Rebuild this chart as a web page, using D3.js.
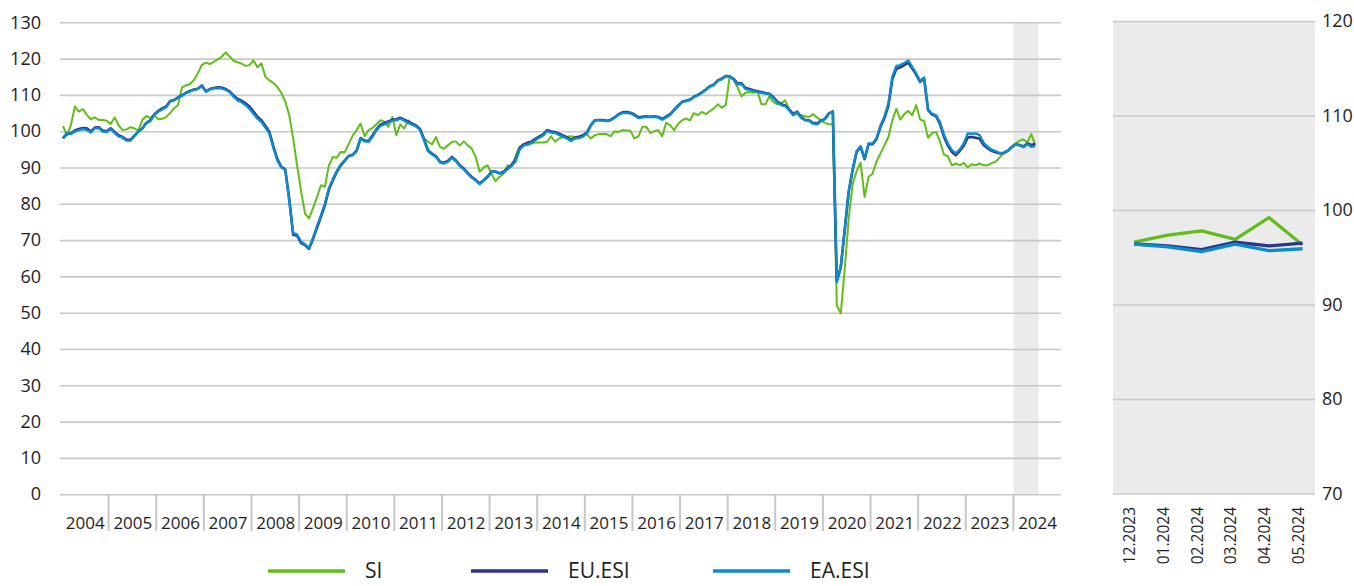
<!DOCTYPE html>
<html><head><meta charset="utf-8">
<script src="https://cdn.jsdelivr.net/npm/d3@7"></script>
<style>
body{margin:0;background:#fff}
svg{display:block}
text{font-family:"Open Sans",sans-serif;fill:#1e1e1e}
</style>
</head><body>
<svg id="chart" width="1354" height="586"></svg>
<script>
// ---------- data ----------
const years = d3.range(2004, 2025).map(String);
const seriesNames = ["SI", "EU.ESI", "EA.ESI"];

// monthly values, Jan 2004 onwards
const siValues = [
101.5, 98.8, 101.7, 106.8, 105.4, 106.1, 104.5, 103.3, 103.8, 103.1, 103.1, 102.9,
102.0, 103.8, 101.7, 100.3, 100.5, 101.1, 100.8, 100.2, 103.1, 104.2, 103.6, 104.5,
103.3, 103.4, 103.9, 105.0, 106.3, 107.2, 112.1, 112.6, 113.0, 114.1, 116.0, 118.3,
118.9, 118.5, 119.1, 119.8, 120.5, 121.7, 120.6, 119.4, 119.0, 118.6, 118.0, 118.2,
119.5, 117.6, 118.7, 115.0, 114.0, 113.3, 112.2, 110.6, 108.2, 104.5, 98.0, 90.5,
83.5, 77.3, 76.0, 78.8, 81.8, 85.1, 84.7, 90.6, 92.9, 92.7, 94.3, 94.2,
96.5, 98.8, 100.3, 102.1, 98.6, 100.3, 100.9, 101.9, 103.0, 102.6, 101.2, 103.9,
98.9, 101.9, 100.7, 103.0, 101.9, 101.2, 100.7, 98.0, 97.1, 96.4, 98.4, 95.7,
95.2, 96.1, 97.0, 97.2, 96.1, 97.2, 96.1, 95.2, 92.9, 88.8, 90.0, 90.6,
88.2, 86.2, 87.4, 88.3, 90.6, 90.2, 92.9, 95.7, 96.4, 96.1, 96.6, 96.9,
96.9, 96.9, 97.1, 98.6, 97.1, 98.0, 98.3, 98.5, 98.6, 98.4, 98.6, 98.9,
99.2, 98.0, 98.9, 99.2, 99.2, 99.2, 98.6, 100.0, 99.8, 100.3, 100.2, 100.1,
98.0, 98.6, 101.2, 101.2, 99.5, 100.0, 100.3, 98.6, 102.3, 101.7, 100.3, 102.0,
103.0, 103.5, 103.0, 105.0, 104.4, 105.3, 104.7, 105.5, 106.3, 107.4, 106.5, 107.2,
115.0, 114.2, 112.0, 109.6, 110.6, 110.8, 110.6, 111.1, 107.4, 107.4, 109.6, 108.1,
107.4, 107.8, 108.5, 105.8, 105.0, 104.6, 104.4, 104.1, 103.9, 104.7, 103.8, 103.0,
102.3, 101.9, 101.9, 52.0, 49.8, 62.0, 76.0, 85.5, 89.0, 91.3, 81.9, 87.4,
88.3, 91.6, 93.9, 96.1, 98.4, 103.0, 106.2, 103.2, 104.7, 105.6, 104.4, 107.2,
103.2, 102.8, 98.2, 99.5, 99.8, 97.1, 93.6, 93.1, 90.6, 91.1, 90.6, 91.3,
90.0, 90.9, 90.6, 91.1, 90.6, 90.6, 91.2, 91.6, 92.7, 93.9, 94.5, 95.5,
96.6, 97.35, 97.8, 96.9, 99.2, 96.3
];

const euValues = [
98.0, 99.3, 99.4, 100.2, 100.6, 100.9, 100.8, 99.9, 101.0, 101.1, 100.2, 100.0,
100.8, 99.8, 98.9, 98.4, 97.7, 97.6, 98.8, 99.9, 100.8, 102.3, 103.0, 104.6,
105.6, 106.3, 106.8, 108.3, 108.6, 109.3, 109.9, 110.6, 111.1, 111.5, 111.7, 112.6,
111.0, 111.6, 111.9, 112.1, 112.0, 111.6, 111.0, 109.8, 108.9, 108.4, 107.7, 106.8,
105.4, 104.0, 103.0, 101.5, 99.8, 95.9, 92.4, 90.2, 89.5, 81.5, 71.5, 71.2,
69.2, 68.6, 67.6, 70.3, 73.4, 76.4, 79.6, 83.9, 86.5, 88.8, 90.6, 91.9,
93.2, 93.5, 94.7, 98.1, 97.4, 97.3, 98.8, 100.5, 101.8, 102.2, 102.7, 103.2,
103.3, 103.7, 103.2, 102.6, 102.1, 101.6, 100.5, 97.7, 94.7, 93.8, 93.1, 91.6,
91.3, 91.8, 92.9, 92.0, 90.6, 89.7, 88.5, 87.4, 86.6, 85.6, 86.5, 87.5,
88.9, 88.9, 88.4, 88.8, 89.7, 90.7, 92.0, 95.1, 96.3, 96.8, 97.1, 97.9,
98.5, 99.1, 100.3, 99.9, 99.8, 99.3, 98.8, 98.3, 97.6, 98.2, 98.4, 98.8,
99.6, 101.6, 103.0, 103.1, 103.1, 102.9, 103.1, 103.8, 104.7, 105.2, 105.3, 105.1,
104.6, 103.8, 104.0, 104.1, 104.0, 104.1, 103.9, 103.4, 104.0, 104.7, 105.9, 107.0,
108.1, 108.4, 108.7, 109.5, 110.0, 110.7, 111.5, 112.4, 112.8, 114.0, 114.5, 115.2,
115.1, 114.4, 113.1, 113.2, 111.9, 111.6, 111.3, 111.0, 110.8, 110.5, 110.3, 109.4,
108.2, 107.4, 107.1, 106.0, 104.7, 105.4, 103.9, 103.1, 103.0, 102.3, 102.1, 102.9,
103.4, 104.9, 105.4, 58.6, 62.4, 72.8, 83.3, 89.3, 94.3, 95.7, 92.3, 96.4,
96.4, 97.8, 101.2, 103.6, 107.0, 114.3, 117.2, 117.6, 118.2, 118.9, 117.3, 115.6,
113.6, 114.5, 105.8, 104.6, 104.2, 102.0, 98.5, 96.0, 94.3, 93.4, 94.6, 96.0,
98.3, 98.4, 98.2, 97.9, 96.2, 95.3, 94.6, 94.2, 93.9, 94.0, 94.5, 95.5,
96.4, 96.2, 95.8, 96.6, 96.2, 96.5
];

const eaValues = [
98.1, 99.5, 99.2, 99.9, 100.3, 100.6, 100.4, 99.6, 100.8, 100.9, 99.9, 99.8,
100.6, 99.5, 98.6, 98.2, 97.4, 97.4, 98.7, 99.9, 100.7, 102.3, 102.8, 104.5,
105.4, 106.0, 106.6, 108.2, 108.5, 109.2, 109.8, 110.5, 111.0, 111.4, 111.6, 112.6,
110.9, 111.5, 111.8, 111.9, 111.8, 111.4, 110.8, 109.5, 108.5, 108.0, 107.2, 106.2,
104.8, 103.5, 102.6, 101.0, 99.4, 95.5, 92.0, 90.0, 89.4, 81.0, 72.0, 71.5,
69.6, 68.8, 67.8, 70.6, 73.8, 76.8, 80.0, 84.2, 86.8, 89.0, 90.8, 92.0,
93.2, 93.4, 94.6, 98.0, 97.2, 97.1, 98.5, 100.3, 101.5, 101.9, 102.4, 102.9,
103.0, 103.5, 102.9, 102.3, 101.8, 101.4, 100.3, 97.5, 94.5, 93.6, 92.9, 91.4,
91.1, 91.6, 92.7, 91.8, 90.4, 89.5, 88.3, 87.2, 86.5, 85.4, 86.4, 87.3,
88.8, 88.8, 88.3, 88.6, 89.5, 90.4, 91.6, 94.8, 96.0, 96.4, 96.8, 97.6,
98.2, 98.8, 100.0, 99.6, 99.5, 99.0, 98.5, 98.0, 97.3, 98.0, 98.1, 98.5,
99.4, 101.5, 103.0, 103.0, 102.9, 102.8, 103.0, 103.7, 104.6, 105.0, 105.0, 104.9,
104.4, 103.6, 103.8, 103.9, 103.9, 103.9, 103.8, 103.2, 103.8, 104.5, 105.8, 106.9,
108.0, 108.3, 108.6, 109.4, 109.9, 110.6, 111.4, 112.3, 112.7, 113.9, 114.3, 115.2,
115.0, 114.3, 112.9, 113.0, 111.6, 111.4, 111.1, 110.8, 110.6, 110.4, 110.2, 109.2,
108.0, 107.2, 106.9, 105.8, 104.4, 105.3, 103.7, 103.0, 102.9, 102.1, 101.9, 102.8,
103.3, 104.8, 105.5, 58.5, 62.7, 73.0, 83.5, 89.5, 94.5, 95.9, 92.5, 96.6,
96.6, 98.0, 101.5, 104.0, 107.6, 115.0, 118.0, 118.2, 118.8, 119.5, 117.7, 115.9,
113.8, 114.8, 106.0, 104.8, 104.4, 102.5, 99.0, 96.6, 94.8, 93.9, 95.0, 96.6,
99.4, 99.3, 99.4, 98.9, 96.8, 95.7, 94.9, 94.5, 94.0, 94.1, 94.6, 95.5,
96.4, 96.1, 95.6, 96.4, 95.7, 95.9
];

const mainTicks = [0, 10, 20, 30, 40, 50, 60, 70, 80, 90, 100, 110, 120, 130];

const detailLabels = ["12.2023", "01.2024", "02.2024", "03.2024", "04.2024", "05.2024"];
const detailSI = [96.6, 97.35, 97.8, 96.9, 99.2, 96.3];
const detailEU = [96.4, 96.2, 95.8, 96.6, 96.2, 96.5];
const detailEA = [96.4, 96.1, 95.6, 96.4, 95.7, 95.9];
const detailTicks = [70, 80, 90, 100, 110, 120];

// ---------- styles ----------
const colors = { "SI": "#62bd19", "EU.ESI": "#2b3589", "EA.ESI": "#0b8bcc" };
const gridColor = "#c8c8c8";
const shadeColor = "#ebebeb";

const svg = d3.select("#chart");

// ---------- main chart ----------
const months = [];
years.forEach(y => { for (let m = 1; m <= 12; m++) months.push(y + "-" + String(m).padStart(2, "0")); });

const x = d3.scaleBand().domain(months).range([61, 1061]).paddingInner(0).paddingOuter(0);
const bw = x.bandwidth();
const y = d3.scaleLinear().domain([0, 130]).range([494.2, 22.3]);

const main = svg.append("g");

// highlighted period (last 6 observations)
const nData = siValues.length;
main.append("rect")
  .attr("x", x(months[nData - 6]))
  .attr("y", y(130))
  .attr("width", x(months[nData - 1]) + bw - x(months[nData - 6]) + 1.5)
  .attr("height", y(0) - y(130))
  .attr("fill", shadeColor);

// horizontal grid + y labels
const yAxis = d3.axisLeft(y).tickValues(mainTicks).tickSize(-1001).tickPadding(19).tickFormat(d3.format("d"));
const gy = main.append("g").attr("transform", "translate(60,0)").call(yAxis);
gy.select(".domain").remove();
gy.selectAll(".tick line").attr("stroke", gridColor).attr("stroke-width", 1.6);
gy.selectAll(".tick text").attr("font-size", 18).attr("fill", "#1e1e1e");

// year separators and labels
const yearStarts = years.map(yr => yr + "-01");
main.append("g").selectAll("line").data(yearStarts.slice(1)).join("line")
  .attr("x1", d => x(d)).attr("x2", d => x(d))
  .attr("y1", y(0)).attr("y2", 531)
  .attr("stroke", gridColor).attr("stroke-width", 2);
main.append("g").selectAll("text").data(years).join("text")
  .attr("x", d => x(d + "-01") + bw * 6.1)
  .attr("y", 529)
  .attr("text-anchor", "middle")
  .attr("font-size", 17)
  .text(d => d);

// lines
const seriesMain = [
  { name: "SI", values: siValues, w: 2 },
  { name: "EU.ESI", values: euValues, w: 2.6 },
  { name: "EA.ESI", values: eaValues, w: 2.4 }
];
const lineMain = d3.line().x((d, i) => x(months[i]) + bw / 2).y(d => y(d));
main.append("g").selectAll("path").data(seriesMain).join("path")
  .attr("d", s => lineMain(s.values))
  .attr("fill", "none")
  .attr("stroke", s => colors[s.name])
  .attr("stroke-width", s => s.w)
  .attr("stroke-linejoin", "round");

// ---------- detail panel ----------
const xd = d3.scaleBand().domain(detailLabels).range([1113, 1315]);
const yd = d3.scaleLinear().domain([70, 120]).range([493.5, 21]);
const det = svg.append("g");
det.append("rect")
  .attr("x", 1113).attr("y", yd(120))
  .attr("width", 1315 - 1113).attr("height", yd(70) - yd(120))
  .attr("fill", shadeColor);

const ydAxis = d3.axisRight(yd).tickValues(detailTicks).tickSize(-(1315 - 1113)).tickPadding(7).tickFormat(d3.format("d"));
const gyd = det.append("g").attr("transform", "translate(1315,0)").call(ydAxis);
gyd.select(".domain").remove();
gyd.selectAll(".tick line").attr("stroke", gridColor).attr("stroke-width", 1.6);
gyd.selectAll(".tick text").attr("font-size", 18).attr("fill", "#1e1e1e");

det.append("g").selectAll("text").data(detailLabels).join("text")
  .attr("transform", d => `translate(${xd(d) + xd.bandwidth() / 2},507) rotate(-90)`)
  .attr("text-anchor", "end")
  .attr("dy", "0.35em")
  .attr("font-size", 15.5)
  .text(d => d);

const seriesDetail = [
  { name: "SI", values: detailSI },
  { name: "EU.ESI", values: detailEU },
  { name: "EA.ESI", values: detailEA }
];
const lineDet = d3.line().x((d, i) => xd(detailLabels[i]) + xd.bandwidth() * 0.63).y(d => yd(d));
det.append("g").selectAll("path").data(seriesDetail).join("path")
  .attr("d", s => lineDet(s.values))
  .attr("fill", "none")
  .attr("stroke", s => colors[s.name])
  .attr("stroke-width", 3.3)
  .attr("stroke-linejoin", "round");

// ---------- legend ----------
const legendPos = [
  { name: "SI", x: 268 },
  { name: "EU.ESI", x: 471 },
  { name: "EA.ESI", x: 713 }
];
const lg = svg.append("g").selectAll("g").data(legendPos).join("g")
  .attr("transform", d => `translate(${d.x},571)`);
lg.append("line").attr("x1", 0).attr("x2", 77).attr("y1", 0).attr("y2", 0)
  .attr("stroke", d => colors[d.name]).attr("stroke-width", 3.3);
lg.append("text").attr("x", 97).attr("y", 7).attr("font-size", 21).text(d => d.name);
</script>
</body></html>
